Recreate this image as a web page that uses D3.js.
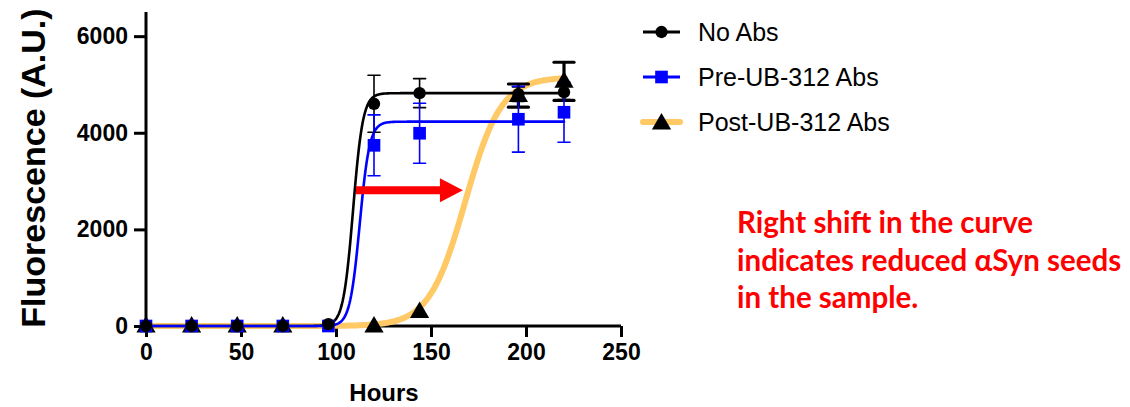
<!DOCTYPE html>
<html>
<head>
<meta charset="utf-8">
<script src="https://cdn.jsdelivr.net/npm/d3@7"></script>
<style>
  body { margin: 0; background: #fff; }
  svg { display: block; }
  .axis path, .axis line { stroke: #000; stroke-width: 3; }
  .axis text { font-family: "Liberation Sans", Arial, sans-serif; font-weight: bold; font-size: 23px; fill: #000; }
</style>
</head>
<body>
<script>
//data
var hours = [0, 24, 48, 72, 96, 120, 144, 196, 220];
var noAbs = [0, 0, 0, 0, 40, 4600, 4820, 4800, 4840];
var noAbsErr = [0, 0, 0, 0, 0, 590, 300, 150, 150];
var preAbs = [0, 0, 0, 0, 0, 3740, 3990, 4280, 4425];
var preAbsErr = [0, 0, 0, 0, 0, 630, 620, 680, 620];
var postHours = [0, 24, 48, 72, 120, 144, 196, 220];
var postAbs = [0, 0, 0, 0, 0, 300, 4770, 5065];
var postAbsErr = [0, 0, 0, 0, 0, 0, 240, 395];

//sigmoid fit parameters (No Abs, Pre, Post)
var fitTop = [4820, 4230, 5150];
var fitV50 = [109, 112.5, 168];
var fitSlope = [2.6, 2.6, 9.5];

var seriesNames = ["No Abs", "Pre-UB-312 Abs", "Post-UB-312 Abs"];
var xTicks = [0, 50, 100, 150, 200, 250];
var yTicks = [0, 2000, 4000, 6000];
var noteLines = ["Right shift in the curve", "indicates reduced \u03b1Syn seeds", "in the sample."];
//arrow annotation in data units: [startHour, endHour, level]
var arrowData = [110.5, 166.8, 2810];

var width = 1130, height = 407;

var svg = d3.select("body").append("svg")
    .attr("width", width)
    .attr("height", height);

var x = d3.scaleLinear().domain([0, 250]).range([146, 621]);
var y = d3.scaleLinear().domain([0, 6500]).range([326, 12]);

//axes
var xAxis = svg.append("g")
    .attr("class", "axis")
    .attr("transform", "translate(0," + y(0) + ")")
    .call(d3.axisBottom(x).tickValues(xTicks).tickFormat(d3.format("d")).tickSize(11).tickPadding(7).tickSizeOuter(0));
var yAxis = svg.append("g")
    .attr("class", "axis")
    .attr("transform", "translate(" + x(0) + ",0)")
    .call(d3.axisLeft(y).tickValues(yTicks).tickFormat(d3.format("d")).tickSize(12).tickPadding(6).tickSizeOuter(0));
xAxis.select(".domain").attr("d", "M" + x(0) + ",0H" + x(250));
yAxis.select(".domain").attr("d", "M0," + y(6500) + "V" + y(0));

//axis titles
svg.append("text")
    .attr("x", 384).attr("y", 401)
    .attr("text-anchor", "middle")
    .style("font-family", "Liberation Sans, Arial, sans-serif")
    .style("font-weight", "bold").style("font-size", "24px")
    .text("Hours");
svg.append("text")
    .attr("transform", "translate(45,168) rotate(-90)")
    .attr("text-anchor", "middle")
    .style("font-family", "Liberation Sans, Arial, sans-serif")
    .style("font-weight", "bold").style("font-size", "34px")
    .text("Fluorescence (A.U.)");

//fitted curves
function sigmoid(i){
    return function(t){ return fitTop[i] / (1 + Math.exp((fitV50[i] - t) / fitSlope[i])); };
}
var curveStyles = [
    {color: "#000", width: 2.6},
    {color: "#0000ff", width: 2.6},
    {color: "#ffc966", width: 6}
];
var line = d3.line().x(function(d){ return x(d[0]); }).y(function(d){ return y(d[1]); });
[2, 0, 1].forEach(function(i){
    var f = sigmoid(i);
    var pts = d3.range(0, 220.5, 0.5).map(function(t){ return [t, f(t)]; });
    svg.append("path")
        .datum(pts)
        .attr("d", line)
        .attr("fill", "none")
        .attr("stroke", curveStyles[i].color)
        .attr("stroke-width", curveStyles[i].width)
        .attr("stroke-linecap", "round");
});

//error bars
function errorBars(xs, vals, errs, color, w, cap){
    var g = svg.append("g");
    xs.forEach(function(h, i){
        if (!errs[i]) return;
        var cx = x(h), y1 = y(vals[i] - errs[i]), y2 = y(vals[i] + errs[i]);
        g.append("line").attr("x1", cx).attr("x2", cx).attr("y1", y1).attr("y2", y2)
            .attr("stroke", color).attr("stroke-width", w);
        [y1, y2].forEach(function(yy){
            g.append("line").attr("x1", cx - cap / 2).attr("x2", cx + cap / 2).attr("y1", yy).attr("y2", yy)
                .attr("stroke", color).attr("stroke-width", w).attr("stroke-linecap", "round");
        });
    });
}
errorBars(postHours, postAbs, postAbsErr, "#000", 3.2, 20);
errorBars(hours, noAbs, noAbsErr, "#000", 1.6, 12);
errorBars(hours, preAbs, preAbsErr, "#0000ff", 1.6, 12);

//markers
var triSym = d3.symbol().type(d3.symbolTriangle).size(160);
var sqSym = d3.symbol().type(d3.symbolSquare).size(160);
var cirSym = d3.symbol().type(d3.symbolCircle).size(120);

svg.append("g").selectAll("path").data(postHours).enter().append("path")
    .attr("d", triSym)
    .attr("transform", function(d, i){ return "translate(" + x(d) + "," + (y(postAbs[i]) + 1) + ")"; })
    .attr("fill", "#000");
svg.append("g").selectAll("path").data(hours).enter().append("path")
    .attr("d", sqSym)
    .attr("transform", function(d, i){ return "translate(" + x(d) + "," + y(preAbs[i]) + ")"; })
    .attr("fill", "#0000ff");
svg.append("g").selectAll("path").data(hours).enter().append("path")
    .attr("d", cirSym)
    .attr("transform", function(d, i){ return "translate(" + x(d) + "," + y(noAbs[i]) + ")"; })
    .attr("fill", "#000");

//red arrow
var ax0 = x(arrowData[0]), ax1 = x(arrowData[1]), ay = y(arrowData[2]);
svg.append("path")
    .attr("d", "M" + ax0 + "," + (ay - 4) + "H" + (ax1 - 23) + "V" + (ay - 12) + "L" + ax1 + "," + ay +
        "L" + (ax1 - 23) + "," + (ay + 12) + "V" + (ay + 4) + "H" + ax0 + "Z")
    .attr("fill", "#ff0000");

//legend
var legend = svg.append("g").attr("transform", "translate(643,0)");
var legendY = [32, 77, 122];
var legendSyms = [cirSym, sqSym, triSym];
var legendFill = ["#000", "#0000ff", "#000"];
seriesNames.forEach(function(name, i){
    var row = legend.append("g").attr("transform", "translate(0," + legendY[i] + ")");
    row.append("line").attr("x1", 0).attr("x2", 37).attr("y1", 0).attr("y2", 0)
        .attr("stroke", curveStyles[i].color).attr("stroke-width", i == 2 ? 6 : 3)
        .attr("stroke-linecap", i == 2 ? "round" : "butt");
    row.append("path").attr("d", legendSyms[i])
        .attr("transform", "translate(18.5," + (i == 2 ? 2 : 0) + ")")
        .attr("fill", legendFill[i]);
    row.append("text")
        .attr("x", 55).attr("y", 9)
        .style("font-family", "Liberation Sans, Arial, sans-serif")
        .style("font-size", "25px")
        .text(name);
});

//annotation text
var note = svg.append("g");
noteLines.forEach(function(t, i){
    note.append("text")
        .attr("x", 737).attr("y", 233 + i * 37.5)
        .style("font-family", "Lato, 'Open Sans', sans-serif")
        .style("font-weight", "bold").style("font-size", "29.5px")
        .attr("fill", "#ff0000")
        .text(t);
});
</script>
</body>
</html>
